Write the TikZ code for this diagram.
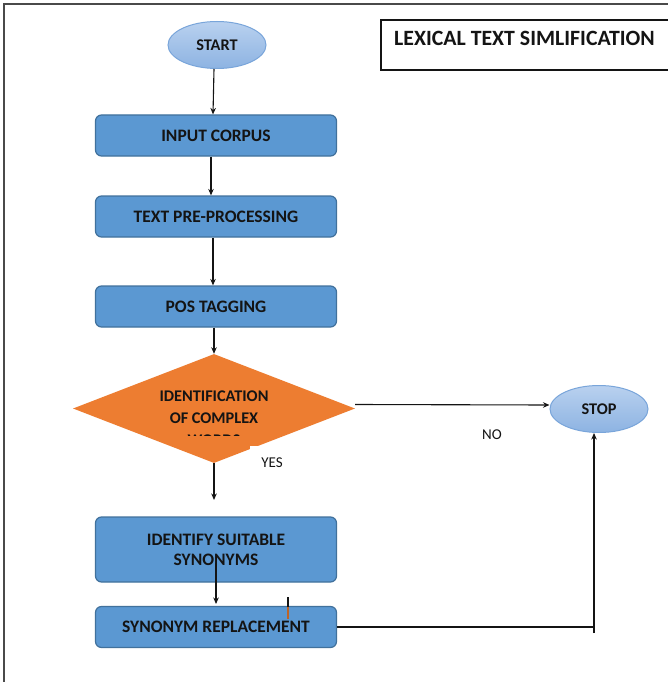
\documentclass[tikz,border=0pt]{standalone}
\usepackage{fontspec}
\setmainfont{Carlito}
\usetikzlibrary{shapes.geometric,arrows.meta,calc}

\definecolor{boxfill}{HTML}{5B98D2}
\definecolor{boxline}{HTML}{41719C}
\definecolor{ovaltop}{HTML}{B9D1EF}
\definecolor{ovalbottom}{HTML}{8DB3E2}
\definecolor{ovalline}{HTML}{79A5DA}
\definecolor{decfill}{HTML}{ED7D31}
\definecolor{inkcol}{HTML}{141414}
\definecolor{framecol}{HTML}{4A4A4A}

\newcommand\fcBox{\fontsize{17.5}{20}\selectfont\bfseries}
\newcommand\fcOval{\fontsize{16.3}{19}\selectfont\bfseries}
\newcommand\fcTitle{\fontsize{21.8}{24}\selectfont\bfseries}
\newcommand\fcLbl{\fontsize{15}{17}\selectfont}

\tikzset{
  procbox/.style={draw=boxline, line width=1.2pt, fill=boxfill, rounded corners=6pt,
    minimum width=241pt, minimum height=41pt, inner sep=0pt, font=\fcBox,
    text=inkcol, align=center},
  oval/.style={ellipse, draw=ovalline, line width=1pt, top color=ovaltop,
    bottom color=ovalbottom, minimum width=98pt, minimum height=47pt,
    inner sep=0pt, font=\fcOval, text=inkcol},
  decision/.style={diamond, fill=decfill, minimum width=282pt,
    minimum height=109pt, inner sep=0pt},
  dectext/.style={font=\fcOval, text=inkcol, inner sep=0pt},
  arr/.style={draw=inkcol, line width=1.1pt, -{Stealth[length=6.5pt,width=5.5pt]}},
  plainline/.style={draw=inkcol, line width=1.1pt},
  lbl/.style={font=\fcLbl, text=inkcol, inner sep=0pt},
  titlebox/.style={draw=inkcol, line width=1.2pt, fill=white}
}

\begin{document}
\begin{tikzpicture}[x=1pt,y=-1pt]
  \useasboundingbox (0,0) rectangle (668,682);
  \clip (0,0) rectangle (668,682);
  \fill[white] (0,0) rectangle (668,682);

  % outer frame (top and left edges)
  \draw[framecol, line width=1.6pt] (4,690) -- (4,4) -- (680,4);

  % title panel
  \draw[titlebox] (381,20) rectangle (700,70);
  \node[font=\fcTitle, text=inkcol, anchor=west, inner sep=0pt] (title) at (394,38) {LEXICAL TEXT SIMLIFICATION};

  % flow nodes
  \node[oval] (start) at (217,45) {START};
  \node[procbox] (input) at (216,135.5) {INPUT CORPUS};
  \node[procbox] (prep) at (216,216.5) {TEXT PRE-PROCESSING};
  \node[procbox] (pos) at (216,306.5) {POS TAGGING};
  \node[decision] (dec) at (214,408.5) {};
  \node[oval] (stop) at (599,409) {STOP};
  \node[procbox, minimum height=65pt] (ident) at (216,549.5) {IDENTIFY SUITABLE\\SYNONYMS};
  \node[procbox, minimum height=41pt] (repl) at (216,627) {SYNONYM REPLACEMENT};

  % decision text; the third line is cut off by its text area
  \node[dectext] (decA) at (214,396) {IDENTIFICATION};
  \node[dectext] (decB) at (214,418) {OF COMPLEX};
  \begin{scope}
    \clip (120,420) rectangle (300,435.5);
    \node[dectext] (decC) at (214,440) {WORDS};
  \end{scope}

  % white patch over the lower right of the diamond
  \fill[white] (250,446) rectangle (275,470);

  % connectors
  \draw[arr] ([xshift=-3pt]start.south) -- ([xshift=-3pt]input.north);
  \draw[arr] ([xshift=-5pt]input.south) -- ([xshift=-5pt]prep.north);
  \draw[arr] ([xshift=-3pt]prep.south) -- ([xshift=-3pt]pos.north);
  \draw[arr] ([xshift=-2pt]pos.south) -- (dec.north);

  \coordinate (yesEnd) at (214,500);
  \draw[arr] (dec.south) -- (yesEnd);
  \node[lbl] (yes) at (272,463) {YES};

  \draw[arr] ([yshift=4pt]dec.east) -- ([yshift=4pt]stop.west);
  \node[lbl] (no) at (492,435) {NO};

  \coordinate (identOut) at (216,563);
  \coordinate (replIn) at (216,604);
  \draw[arr] (identOut) -- (replIn);

  % return path to STOP
  \coordinate (corner) at (594,627);
  \coordinate (tail) at (594,633);
  \draw[plainline] (repl.east) -- (corner);
  \draw[arr] (tail) -- (corner |- stop.south);

  % small tick over the replacement box
  \draw[inkcol, line width=2pt] (288,597) -- (288,607);
  \draw[decfill!80!black, line width=2pt] (288,607) -- (288,619);
\end{tikzpicture}
\end{document}
